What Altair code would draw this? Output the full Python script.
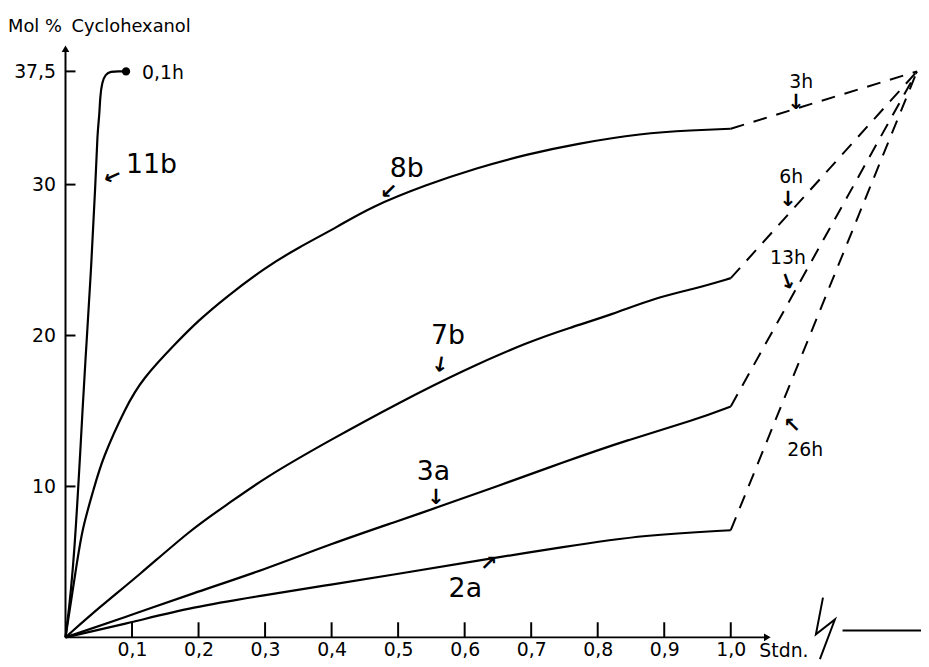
import altair as alt
import pandas as pd

FONT = "DejaVu Sans"

# ---- curves (x in Stdn., y in Mol %) ----
c11b_x = [0, 0.013, 0.028, 0.031, 0.039, 0.045, 0.048, 0.051, 0.052, 0.055, 0.06, 0.068, 0.08, 0.091]
c11b_y = [0, 4.6, 17.1, 19.0, 24.8, 30.0, 33.5, 34.6, 35.8, 36.8, 37.3, 37.5, 37.5, 37.5]

c8b_x = [0, 0.016, 0.025, 0.043, 0.055, 0.091, 0.115, 0.166, 0.2, 0.24, 0.3, 0.349, 0.409, 0.458,
         0.543, 0.618, 0.693, 0.767, 0.867, 0.942, 1.0]
c8b_y = [0, 4.6, 7.2, 9.9, 11.8, 15.3, 17.1, 19.5, 21.0, 22.5, 24.5, 25.8, 27.2, 28.5,
         30.0, 31.1, 32.0, 32.7, 33.4, 33.6, 33.7]

c7b_x = [0, 0.051, 0.11, 0.19, 0.24, 0.3, 0.399, 0.499, 0.598, 0.697, 0.757, 0.822, 0.887, 0.946, 1.0]
c7b_y = [0, 2.0, 4.1, 7.2, 8.7, 10.6, 13.1, 15.5, 17.7, 19.6, 20.5, 21.4, 22.5, 23.1, 23.8]

c3a_x = [0, 0.1, 0.19, 0.3, 0.399, 0.499, 0.558, 0.648, 0.748, 0.846, 0.946, 1.0]
c3a_y = [0, 1.5, 2.9, 4.5, 6.2, 7.7, 8.6, 10.0, 11.6, 13.1, 14.4, 15.3]

c2a_x = [0, 0.1, 0.19, 0.3, 0.399, 0.499, 0.622, 0.748, 0.872, 1.0]
c2a_y = [0, 1.0, 2.0, 2.8, 3.5, 4.2, 5.1, 6.0, 6.8, 7.1]

# dashed extensions to the final value (after the axis break)
ext_names = ["3h", "6h", "13h", "26h"]
ext_start_x = [1.0, 1.0, 1.0, 1.0]
ext_start_y = [33.7, 23.8, 15.3, 7.1]
end_x = 1.28
end_y = 37.5

# end dot of 11b
dot_x = [0.091]
dot_y = [37.5]

# axis ticks
xtick_vals = [0.1, 0.2, 0.3, 0.4, 0.5, 0.6, 0.7, 0.8, 0.9, 1.0]
ytick_vals = [10, 20, 30, 37.5]

# labels
big_text = ["11b", "8b", "7b", "3a", "2a"]
big_x = [0.091, 0.513, 0.575, 0.553, 0.601]
big_y = [31.3, 31.06, 19.96, 10.96, 3.2]

small_text = ["0,1h", "3h", "6h", "13h", "26h"]
small_x = [0.115, 1.106, 1.091, 1.086, 1.112]
small_y = [37.4, 36.77, 30.47, 25.15, 12.4]

arrow_text = ["←", "↙", "↓", "↓", "↗", "↓", "↓", "↓", "↖"]
arrow_x = [0.071, 0.486, 0.563, 0.557, 0.636, 1.098, 1.086, 1.086, 1.092]
arrow_y = [30.5, 29.5, 18.0, 9.2, 4.85, 35.4, 29.0, 23.5, 14.0]
arrow_angle = [335, 0, 10, 0, 0, 0, 0, 340, 0]

ytitle_text = ["Mol %", "Cyclohexanol"]
ytitle_x = [-0.0864, 0.009]
ytitle_y = [40.45, 40.45]

unit_text = ["Stdn."]
unit_x = [1.043]
unit_y = [-0.9]

# axis break symbol and continuation
zig_x = [1.1386, 1.128, 1.1565, 1.134]
zig_y = [2.63, 0.2, 1.18, -1.44]
cont_x = [1.168, 1.286]
cont_y = [0.46, 0.46]

# axis extents
yaxis_top = 39.0
xaxis_end = 1.055

# ---------------------------------------------------------------
xs = alt.Scale(domain=[0, 1.28], nice=False, zero=False)
ys = alt.Scale(domain=[0, 40], nice=False, zero=False)

xaxis = alt.Axis(values=xtick_vals, labelExpr="replace(format(datum.value, '.1f'), '.', ',')",
                 ticks=False, tickSize=0, domain=False, grid=False, labelPadding=3,
                 labelFont=FONT, labelFontSize=19, labelColor="black", title=None,
                 labelFlush=False, labelOverlap=False)
yaxis = alt.Axis(values=ytick_vals, labelExpr="replace(format(datum.value, '~g'), '.', ',')",
                 ticks=False, tickSize=0, domain=False, grid=False, labelPadding=10,
                 labelFont=FONT, labelFontSize=19, labelColor="black", title=None,
                 labelFlush=False, labelOverlap=False)

X = alt.X("x:Q", scale=xs, axis=xaxis)
Y = alt.Y("y:Q", scale=ys, axis=yaxis)

rows = []
for name, xv, yv in [("11b", c11b_x, c11b_y), ("8b", c8b_x, c8b_y), ("7b", c7b_x, c7b_y),
                     ("3a", c3a_x, c3a_y), ("2a", c2a_x, c2a_y)]:
    for a, b in zip(xv, yv):
        rows.append({"s": name, "x": a, "y": b})
curves_df = pd.DataFrame(rows)

ext_rows = []
for n, sx, sy in zip(ext_names, ext_start_x, ext_start_y):
    ext_rows.append({"s": n, "x": sx, "y": sy})
    ext_rows.append({"s": n, "x": end_x, "y": end_y})
ext_df = pd.DataFrame(ext_rows)

curves = alt.Chart(curves_df).mark_line(color="black", strokeWidth=2.2, interpolate="basis").encode(
    x=X, y=Y, detail="s:N")

ext = alt.Chart(ext_df).mark_line(color="black", strokeWidth=2, strokeDash=[14, 10]).encode(
    x=X, y=Y, detail="s:N")

dot = alt.Chart(pd.DataFrame({"x": dot_x, "y": dot_y})).mark_circle(color="black", size=70, opacity=1).encode(x=X, y=Y)

# axes lines
axis_df = pd.DataFrame([
    {"s": "y", "i": 0, "x": 0, "y": 0}, {"s": "y", "i": 1, "x": 0, "y": yaxis_top},
    {"s": "x", "i": 0, "x": 0, "y": 0}, {"s": "x", "i": 1, "x": xaxis_end, "y": 0},
])
axes = alt.Chart(axis_df).mark_line(color="black", strokeWidth=2).encode(x=X, y=Y, detail="s:N", order="i:Q")

arrowheads = alt.Chart(pd.DataFrame({"x": [0, xaxis_end], "y": [yaxis_top, 0],
                                     "shape": ["triangle-up", "triangle-right"]})).mark_point(
    filled=True, color="black", size=60, opacity=1).encode(
    x=X, y=Y, shape=alt.Shape("shape:N", scale=None))

xt_df = pd.DataFrame({"x": xtick_vals, "y": [0] * len(xtick_vals), "y2": [1.0] * len(xtick_vals)})
xticks = alt.Chart(xt_df).mark_rule(color="black", strokeWidth=2).encode(x=X, y=Y, y2="y2:Q")
yt_df = pd.DataFrame({"x": [0] * len(ytick_vals), "x2": [0.015] * len(ytick_vals), "y": ytick_vals})
yticks = alt.Chart(yt_df).mark_rule(color="black", strokeWidth=2).encode(x=X, x2="x2:Q", y=Y)

zig_df = pd.DataFrame({"i": list(range(len(zig_x))), "x": zig_x, "y": zig_y})
zig = alt.Chart(zig_df).mark_line(color="black", strokeWidth=2).encode(x=X, y=Y, order="i:Q")
cont = alt.Chart(pd.DataFrame({"x": cont_x, "y": cont_y})).mark_line(color="black", strokeWidth=2).encode(x=X, y=Y)

big_left = alt.Chart(pd.DataFrame({"x": big_x[:1], "y": big_y[:1], "t": big_text[:1]})).mark_text(
    font=FONT, fontSize=27, color="black", baseline="middle", align="left").encode(x=X, y=Y, text="t:N")
big_center = alt.Chart(pd.DataFrame({"x": big_x[1:], "y": big_y[1:], "t": big_text[1:]})).mark_text(
    font=FONT, fontSize=27, color="black", baseline="middle", align="center").encode(x=X, y=Y, text="t:N")

small_left = alt.Chart(pd.DataFrame({"x": small_x[:1], "y": small_y[:1], "t": small_text[:1]})).mark_text(
    font=FONT, fontSize=19, color="black", baseline="middle", align="left").encode(x=X, y=Y, text="t:N")
small_center = alt.Chart(pd.DataFrame({"x": small_x[1:], "y": small_y[1:], "t": small_text[1:]})).mark_text(
    font=FONT, fontSize=19, color="black", baseline="middle", align="center").encode(x=X, y=Y, text="t:N")

arrows = alt.Chart(pd.DataFrame({"x": arrow_x, "y": arrow_y, "t": arrow_text, "a": arrow_angle})).mark_text(
    font=FONT, fontSize=21, color="black", baseline="middle", align="center", fontWeight="bold").encode(
    x=X, y=Y, text="t:N", angle=alt.Angle("a:Q", scale=None))

ytitle = alt.Chart(pd.DataFrame({"x": ytitle_x, "y": ytitle_y, "t": ytitle_text})).mark_text(
    font=FONT, fontSize=18, color="black", baseline="middle", align="left").encode(x=X, y=Y, text="t:N")

unit = alt.Chart(pd.DataFrame({"x": unit_x, "y": unit_y, "t": unit_text})).mark_text(
    font=FONT, fontSize=19, color="black", baseline="middle", align="left").encode(x=X, y=Y, text="t:N")

chart = alt.layer(
    axes, arrowheads, xticks, yticks, curves, ext, dot, zig, cont,
    big_left, big_center, small_left, small_center, arrows, ytitle, unit
).properties(
    width=859, height=609,
    padding={"left": 58, "top": 23, "right": 4, "bottom": 27},
    autosize=alt.AutoSizeParams(type="none"),
    background="white",
).configure_view(stroke=None)

chart.save("out.html", embed_options={"renderer": "svg", "actions": False})
